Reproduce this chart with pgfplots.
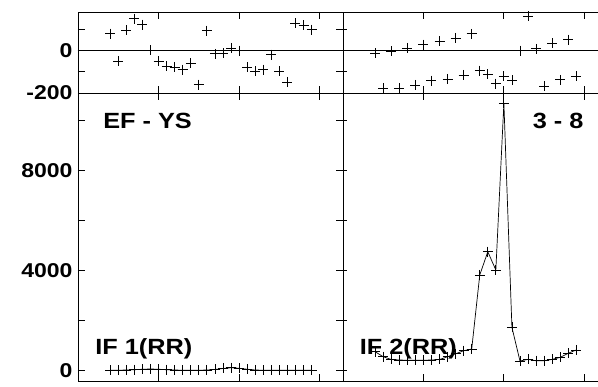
\documentclass[border=0pt]{standalone}
\usepackage{fontspec}
\setmainfont{Liberation Sans}[FakeStretch=1.15]
\usepackage{pgfplots}
\pgfplotsset{compat=1.18}

\pgfplotstableread{
x  topl  botl  topr  botr
4   79    20   -12   760
5  -51    20  -178   560
6   95    30    -4   450
7  150    40  -178   430
8  121    60    12   420
9    1    70  -162   420
10 -51    60    27   420
11 -74    40  -142   430
12 -78    30    43   450
13 -90    20  -134   560
14 -59    20    59   680
15 -161   20  -115   800
16  93    30    78   870
17 -16    50   -95  3830
18 -12    90  -112  4760
19  12   120  -156  4030
20  -1   100  -121 10700
21 -78    60  -140  1735
22 -98    30    -1   390
23 -90    20   161   455
24 -20    20     8   400
25 -98    20  -168   400
26 -148   20    35   455
27 129    20  -138   535
28 118    20    51   700
29  98    20  -122   830
}\resid

\tikzset{lab/.style={font=\fontsize{22}{26}\selectfont\bfseries}}
\pgfplotsset{
  panel/.style={
    scale only axis, anchor=south west,
    axis line style={line width=0.9pt},
    every tick/.style={black, line width=0.9pt},
    major tick length=7pt, minor tick length=7pt,
    xtick={10,20,30}, xticklabels={},
    xmin=0, scaled y ticks=false,
    tick label style={font=\fontsize{20}{24}\selectfont\bfseries},
    yticklabel style={xshift=-2pt},
    /pgf/number format/assume math mode=true,
  },
  top/.style={panel, height=81pt, ymin=-200, ymax=181,
    ytick={-200,-100,0,100},
    extra y ticks={0}, extra y tick labels={},
    extra y tick style={grid=major, major grid style={black, line width=0.8pt}}},
  bot/.style={panel, height=288pt, ymin=-410, ymax=11110,
    ytick={0,2000,4000,6000,8000,10000}},
  pts/.style={black, only marks, mark=+, mark size=5pt, mark options={line width=0.8pt}},
  ln/.style={black, line width=0.7pt, mark=+, mark size=5pt, mark options={line width=0.8pt}},
}

\begin{document}
\begin{tikzpicture}
\path[use as bounding box] (0,0) rectangle (598pt,387pt);

% left column
\begin{axis}[top, at={(78pt,294pt)}, width=265pt, xmax=32.9,
    yticklabels={-200,,0,}]
  \addplot[pts] table[x=x, y=topl] {\resid};
\end{axis}
\begin{axis}[bot, at={(78pt,6pt)}, width=265pt, xmax=32.9,
    yticklabels={0,,4000,,8000,}]
  \addplot[ln] table[x=x, y=botl] {\resid};
  \node[anchor=west, lab] at (rel axis cs:0.082,0.903) {EF - YS};
  \node[anchor=west, lab] at (rel axis cs:0.052,0.111) {IF 1(RR)};
\end{axis}

% right column
\begin{axis}[top, at={(343pt,294pt)}, width=255pt, xmax=31.7,
    axis x line=box, axis y line=left, y axis line style={-}, yticklabels={}]
  \addplot[pts] table[x=x, y=topr] {\resid};
\end{axis}
\begin{axis}[bot, at={(343pt,6pt)}, width=255pt, xmax=31.7,
    axis x line=box, axis y line=left, y axis line style={-}, yticklabels={}]
  \addplot[ln] table[x=x, y=botr] {\resid};
  \node[anchor=east, lab] at (rel axis cs:0.957,0.903) {3 - 8};
  \node[anchor=west, lab] at (rel axis cs:0.052,0.111) {IF 2(RR)};
\end{axis}
\end{tikzpicture}
\end{document}
